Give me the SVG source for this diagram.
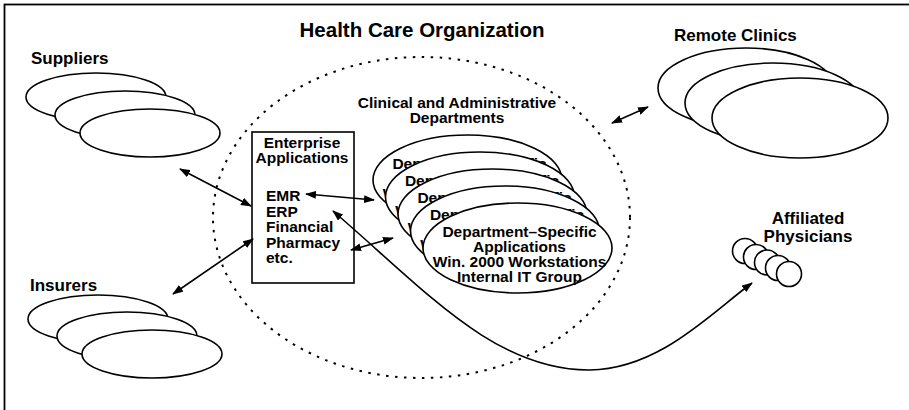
<svg xmlns="http://www.w3.org/2000/svg" width="909" height="410" viewBox="0 0 909 410">
<defs>
<style>
.t{font-family:"Liberation Sans",Arial,Helvetica,sans-serif;font-weight:bold;fill:#000}
.lbl{font-size:17px}
.in{font-size:15.5px}
.el{fill:#fff;stroke:#000;stroke-width:1.6}
.ln{fill:none;stroke:#000;stroke-width:1.6}
</style>
<marker id="ah" markerUnits="userSpaceOnUse" markerWidth="11" markerHeight="8" refX="10" refY="4" orient="auto-start-reverse">
<path d="M0,0 L11,4 L0,8 z" fill="#000"/>
</marker>
</defs>
<rect x="0" y="0" width="909" height="410" fill="#fff"/>
<rect id="frame" x="4.5" y="4.5" width="920" height="420" fill="none" stroke="#000" stroke-width="1.8"/>

<g id="org">
<ellipse cx="421.5" cy="217.5" rx="208.5" ry="160.5" fill="none" stroke="#000" stroke-width="2" stroke-dasharray="2.5 6.5"/>
<text class="t" x="422" y="37" font-size="20.5" text-anchor="middle">Health Care Organization</text>
</g>

<g id="suppliers">
<text class="t lbl" x="31" y="64">Suppliers</text>
<ellipse class="el" cx="96" cy="97" rx="70" ry="24"/>
<ellipse class="el" cx="125" cy="115" rx="70" ry="24"/>
<ellipse class="el" cx="150" cy="133" rx="70" ry="24"/>
</g>

<g id="insurers">
<text class="t lbl" x="30" y="291">Insurers</text>
<ellipse class="el" cx="98" cy="319" rx="70" ry="24"/>
<ellipse class="el" cx="127" cy="336" rx="70" ry="24"/>
<ellipse class="el" cx="152" cy="354" rx="70" ry="24"/>
</g>

<g id="remote-clinics">
<text class="t lbl" x="674" y="41">Remote Clinics</text>
<ellipse class="el" cx="746" cy="88" rx="88" ry="40"/>
<ellipse class="el" cx="773" cy="103" rx="88" ry="40"/>
<ellipse class="el" cx="800" cy="118" rx="88" ry="40"/>
</g>

<g id="affiliated-physicians">
<text class="t lbl" x="808" y="224" text-anchor="middle">Affiliated</text>
<text class="t lbl" x="808" y="242" text-anchor="middle">Physicians</text>
<circle class="el" cx="745" cy="251" r="12.5"/>
<circle class="el" cx="756" cy="257" r="12.5"/>
<circle class="el" cx="767" cy="262.5" r="12.5"/>
<circle class="el" cx="778" cy="268" r="12.5"/>
<circle class="el" cx="789" cy="274" r="12.5"/>
</g>

<g id="enterprise-applications">
<rect x="252" y="132" width="102" height="151" fill="#fff" stroke="#000" stroke-width="1.6"/>
<text class="t in" x="302" y="148" text-anchor="middle">Enterprise</text>
<text class="t in" x="302" y="163" text-anchor="middle">Applications</text>
<text class="t in" x="266" y="201">EMR</text>
<text class="t in" x="266" y="216.5">ERP</text>
<text class="t in" x="266" y="232">Financial</text>
<text class="t in" x="266" y="247.5">Pharmacy</text>
<text class="t in" x="266" y="263">etc.</text>
</g>

<g id="departments">
<text class="t in" x="457" y="108" text-anchor="middle">Clinical and Administrative</text>
<text class="t in" x="457" y="123" text-anchor="middle">Departments</text>
<g id="dept1">
<ellipse class="el" cx="467.5" cy="180" rx="94.5" ry="45"/>
<text class="t in" x="469.5" y="169" text-anchor="middle">Department–Specific</text>
<text class="t in" x="469.5" y="184" text-anchor="middle">Applications</text>
<text class="t in" x="469.5" y="199" text-anchor="middle">Win. 2000 Workstations</text>
<text class="t in" x="469.5" y="214" text-anchor="middle">Internal IT Group</text>
</g>
<g id="dept2">
<ellipse class="el" cx="480" cy="197" rx="94.5" ry="45"/>
<text class="t in" x="482" y="186" text-anchor="middle">Department–Specific</text>
<text class="t in" x="482" y="201" text-anchor="middle">Applications</text>
<text class="t in" x="482" y="216" text-anchor="middle">Win. 2000 Workstations</text>
<text class="t in" x="482" y="231" text-anchor="middle">Internal IT Group</text>
</g>
<g id="dept3">
<ellipse class="el" cx="492.5" cy="214" rx="94.5" ry="45"/>
<text class="t in" x="494.5" y="203" text-anchor="middle">Department–Specific</text>
<text class="t in" x="494.5" y="218" text-anchor="middle">Applications</text>
<text class="t in" x="494.5" y="233" text-anchor="middle">Win. 2000 Workstations</text>
<text class="t in" x="494.5" y="248" text-anchor="middle">Internal IT Group</text>
</g>
<g id="dept4">
<ellipse class="el" cx="505" cy="231" rx="94.5" ry="45"/>
<text class="t in" x="507" y="220" text-anchor="middle">Department–Specific</text>
<text class="t in" x="507" y="235" text-anchor="middle">Applications</text>
<text class="t in" x="507" y="250" text-anchor="middle">Win. 2000 Workstations</text>
<text class="t in" x="507" y="265" text-anchor="middle">Internal IT Group</text>
</g>
<g id="dept5">
<ellipse class="el" cx="517.5" cy="248" rx="94.5" ry="45"/>
<text class="t in" x="519.5" y="237" text-anchor="middle">Department–Specific</text>
<text class="t in" x="519.5" y="252" text-anchor="middle">Applications</text>
<text class="t in" x="519.5" y="267" text-anchor="middle">Win. 2000 Workstations</text>
<text class="t in" x="519.5" y="282" text-anchor="middle">Internal IT Group</text>
</g>
</g>

<g id="connectors">
<path class="ln" d="M180,169 L251,206" marker-start="url(#ah)" marker-end="url(#ah)"/>
<path class="ln" d="M173,294 L253,239" marker-start="url(#ah)" marker-end="url(#ah)"/>
<path class="ln" d="M306,194 L374,200" marker-start="url(#ah)" marker-end="url(#ah)"/>
<path class="ln" d="M351,250 L393,238" marker-start="url(#ah)" marker-end="url(#ah)"/>
<path class="ln" d="M612,123 L648,107" marker-start="url(#ah)" marker-end="url(#ah)"/>
<path class="ln" d="M333,211 C425,290 495,371 590,370 C660,369 712,312 752,283" marker-start="url(#ah)" marker-end="url(#ah)"/>
</g>
</svg>
